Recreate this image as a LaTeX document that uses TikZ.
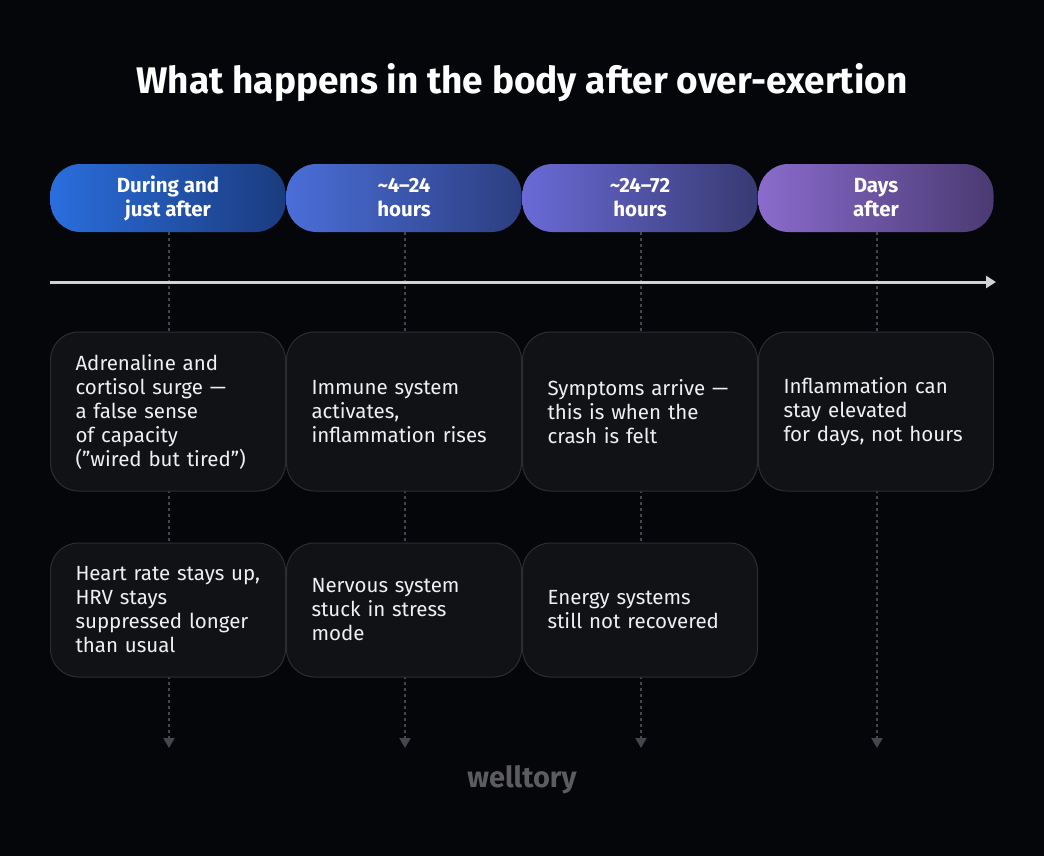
\documentclass[tikz,border=0pt]{standalone}
\usepackage{fontspec}
\setmainfont{Fira Sans}
\usetikzlibrary{arrows.meta}
\definecolor{bg}{HTML}{05060A}
\definecolor{boxfill}{HTML}{111216}
\definecolor{boxline}{HTML}{2C2D32}
\definecolor{dotc}{HTML}{45464B}
\definecolor{axisc}{HTML}{D2D2D4}
\definecolor{txt}{HTML}{F0F0F2}
\definecolor{logoc}{HTML}{5C5C60}
\definecolor{pAl}{HTML}{2A6EDD}\definecolor{pAr}{HTML}{1B3B7E}
\definecolor{pBl}{HTML}{4A6ED8}\definecolor{pBr}{HTML}{2C3E80}
\definecolor{pCl}{HTML}{6A6AD6}\definecolor{pCr}{HTML}{373A72}
\definecolor{pDl}{HTML}{8A6BCD}\definecolor{pDr}{HTML}{4A3A72}
\tikzset{
  pill/.style={rounded corners=30pt, minimum width=235pt, minimum height=68pt, inner sep=0pt,
    align=center, text=white, font=\fontsize{20.5}{24}\selectfont\bfseries},
  card/.style={draw=boxline, line width=1pt, fill=boxfill, rounded corners=28pt,
    minimum width=235pt, inner xsep=25pt, inner ysep=0pt, text width=185pt, align=left,
    text=txt, font=\fontsize{20.5}{24}\selectfont},
  guide/.style={draw=dotc, line width=2.2pt, dash pattern=on 3pt off 3pt,
    -{Triangle[width=11pt,length=10pt]}},
}
\begin{document}
\begin{tikzpicture}[x=1pt,y=-1pt]
\fill[bg] (0,0) rectangle (1044,856);
\useasboundingbox (0,0) rectangle (1044,856);
\node[text=white, font=\fontsize{37}{42}\selectfont\bfseries] (title) at (522,83) {What happens in the body after over-exertion};
% guide endpoints
\coordinate (e1) at (169,748);
\coordinate (e2) at (405,748);
\coordinate (e3) at (641,748);
\coordinate (e4) at (877,748);
\coordinate (s1) at (169,232);
\coordinate (s2) at (405,232);
\coordinate (s3) at (641,232);
\coordinate (s4) at (877,232);
\draw[guide] (s1) -- (e1);
\draw[guide] (s2) -- (e2);
\draw[guide] (s3) -- (e3);
\draw[guide] (s4) -- (e4);
% pills
\node[pill, left color=pAl, right color=pAr] (h1) at (168,198) {During and\\just after};
\node[pill, left color=pBl, right color=pBr] (h2) at (404,198) {\textasciitilde4–24\\hours};
\node[pill, left color=pCl, right color=pCr] (h3) at (640,198) {\textasciitilde24–72\\hours};
\node[pill, left color=pDl, right color=pDr] (h4) at (876,198) {Days\\after};
% axis
\coordinate (a0) at (50,282);
\coordinate (a1) at (996,282);
\draw[axisc, line width=3pt, -{Triangle[width=12pt,length=10pt]}] (a0) -- (a1);
% row 1
\node[card, minimum height=159pt] (b11) at (168,411.5) {Adrenaline and\\cortisol surge —\\a false sense\\of capacity\\(”wired but tired”)};
\node[card, minimum height=159pt] (b12) at (404,411.5) {Immune system\\activates,\\inflammation rises};
\node[card, minimum height=159pt] (b13) at (640,411.5) {Symptoms arrive —\\this is when the\\crash is felt};
\node[card, minimum height=159pt] (b14) at (876,411.5) {Inflammation can\\stay elevated\\for days, not hours};
% row 2
\node[card, minimum height=134pt] (b21) at (168,610) {Heart rate stays up,\\HRV stays\\suppressed longer\\than usual};
\node[card, minimum height=134pt] (b22) at (404,610) {Nervous system\\stuck in stress\\mode};
\node[card, minimum height=134pt] (b23) at (640,610) {Energy systems\\still not recovered};
\node[text=logoc, font=\fontsize{29}{32}\selectfont\bfseries] (logo) at (522,780) {welltory};
\end{tikzpicture}
\end{document}
